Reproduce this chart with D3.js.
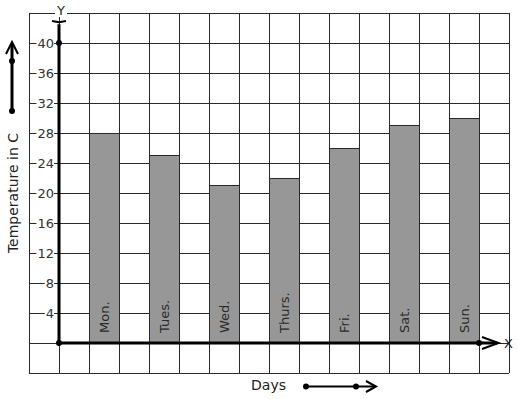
<!DOCTYPE html>
<html><head><meta charset="utf-8">
<script src="https://cdn.jsdelivr.net/npm/d3@7"></script>
<style>html,body{margin:0;padding:0;background:#fff;}svg{display:block;}text{font-family:"DejaVu Sans",sans-serif;}</style>
</head><body>
<svg id="c" width="517" height="399"></svg>
<script>
const days = ["Mon.","Tues.","Wed.","Thurs.","Fri.","Sat.","Sun."];
const temps = [28,25,21,22,26,29,30];
const yTicks = [4,8,12,16,20,24,28,32,36,40];

const svg = d3.select("#c");
const col = d3.scaleLinear().domain([0,16]).range([29,509]);
const y = d3.scaleLinear().domain([-4,44]).range([373,13]);
const xBar = d3.scaleBand().domain(days).range([col(2), col(16)]).paddingInner(0);

const grid = svg.append("g").attr("stroke","#2a2a2a").attr("stroke-width",1).attr("shape-rendering","crispEdges");
d3.range(0,17).forEach(i=>{
  grid.append("line").attr("x1",col(i)).attr("x2",col(i)).attr("y1",y(44)).attr("y2",y(-4));
});
d3.range(-4,45,4).forEach(v=>{
  grid.append("line").attr("x1",col(0)).attr("x2",col(16)).attr("y1",y(v)).attr("y2",y(v));
});

// bars
svg.append("g").selectAll("rect").data(days).join("rect")
  .attr("x",d=>xBar(d)).attr("width",xBar.bandwidth()/2)
  .attr("y",(d,i)=>y(temps[i])).attr("height",(d,i)=>y(0)-y(temps[i]))
  .attr("fill","#979797").attr("stroke","#2a2a2a").attr("stroke-width",1).attr("shape-rendering","crispEdges");

// bar labels
svg.append("g").selectAll("text").data(days).join("text")
  .attr("transform",d=>`translate(${xBar(d)+xBar.bandwidth()/4+4.5},${y(0)-10}) rotate(-90)`)
  .attr("text-anchor","start").attr("font-size",13).attr("fill","#2a2a2a").text(d=>d);

// y tick labels with white background
const tl = svg.append("g");
yTicks.forEach(v=>{
  const t = tl.append("text").attr("x",54).attr("y",y(v)+4.5).attr("text-anchor","end")
    .attr("font-size",13).attr("fill","#333").text(v);
  const bb = t.node().getBBox();
  tl.insert("rect","text").attr("x",bb.x-1).attr("y",y(v)-2).attr("width",bb.width+1).attr("height",4).attr("fill","#fff");
});

// axes
const ax = svg.append("g").attr("stroke","#000").attr("fill","none");
ax.append("line").attr("x1",col(1)).attr("x2",col(1)).attr("y1",y(0)).attr("y2",y(42.5)).attr("stroke-width",3);
ax.append("path").attr("d",`M${col(1)-7},${y(40)-22} L${col(1)},${y(42.5)-2} L${col(1)+7},${y(40)-22}`).attr("stroke-width",2);
ax.append("line").attr("x1",col(1)).attr("x2",col(15.6)).attr("y1",y(0)).attr("y2",y(0)).attr("stroke-width",3);
ax.append("path").attr("d",`M${col(15.1)},${y(0)-6} L${col(15.65)},${y(0)} L${col(15.1)},${y(0)+6}`).attr("stroke-width",2);
const dots = svg.append("g").attr("fill","#000");
[[col(1),y(0)],[col(1),y(40)],[col(15),y(0)]].forEach(p=>dots.append("circle").attr("cx",p[0]).attr("cy",p[1]).attr("r",3));

// axis letters
svg.append("rect").attr("x",55).attr("y",3).attr("width",12).attr("height",14).attr("fill","#fff");
svg.append("text").attr("x",61).attr("y",15).attr("text-anchor","middle").attr("font-size",13).attr("fill","#222").text("Y");
svg.append("text").attr("x",508.5).attr("y",y(0)+5).attr("text-anchor","middle").attr("font-size",13).attr("fill","#222").text("X");

// left arrow
const la = svg.append("g");
la.append("line").attr("x1",12).attr("x2",12).attr("y1",111).attr("y2",44).attr("stroke","#000").attr("stroke-width",3);
la.append("path").attr("d","M6,54 L12,42 L18,54").attr("stroke","#000").attr("stroke-width",2).attr("fill","none");
la.append("circle").attr("cx",12).attr("cy",61).attr("r",3);
la.append("circle").attr("cx",12).attr("cy",111).attr("r",3);

svg.append("text").attr("transform","translate(17.5,193) rotate(-90)").attr("text-anchor","middle")
  .attr("font-size",14).attr("fill","#222").text("Temperature in C");

// bottom
svg.append("text").attr("x",268.5).attr("y",390).attr("text-anchor","middle").attr("font-size",14).attr("fill","#222").text("Days");
const ba = svg.append("g");
ba.append("line").attr("x1",306).attr("x2",374).attr("y1",386.5).attr("y2",386.5).attr("stroke","#000").attr("stroke-width",2);
ba.append("path").attr("d","M366,381 L376,386.5 L366,392").attr("stroke","#000").attr("stroke-width",2).attr("fill","none");
ba.append("circle").attr("cx",306).attr("cy",386.5).attr("r",3);
ba.append("circle").attr("cx",356).attr("cy",386.5).attr("r",3);
</script>
</body></html>
